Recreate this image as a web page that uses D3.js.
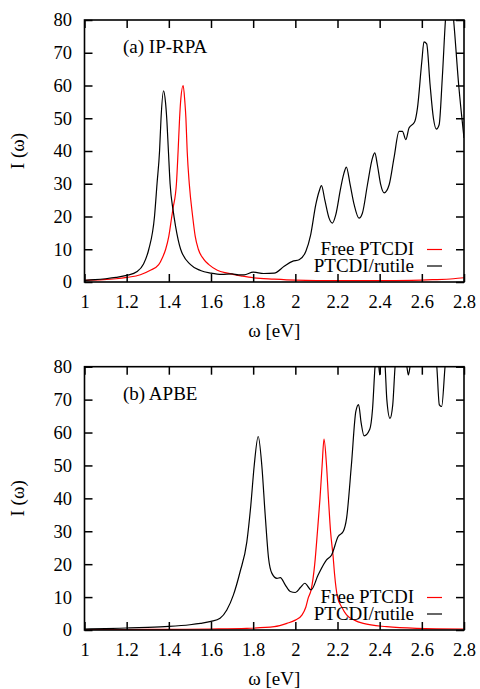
<!DOCTYPE html>
<html lang='en'>
	<head>
		<meta http-equiv='Content-Type' content='text/html;charset=utf-8'/>
		<title>I(omega) spectra</title>
		<script src='https://d3js.org/d3.v7.min.js'></script>
		<style>
			body { margin: 0; background: #ffffff; }
			text { font-family: 'Liberation Serif', 'DejaVu Serif', serif; fill: #000; }
		</style>
	</head>

	<body>
	<script>
	'use strict'

	// tick values
	const xTicks = [1, 1.2, 1.4, 1.6, 1.8, 2, 2.2, 2.4, 2.6, 2.8]
	const yTicks = [0, 10, 20, 30, 40, 50, 60, 70, 80]

	// series names
	const seriesNames = ['Free PTCDI', 'PTCDI/rutile']
	const panelLabels = ['(a) IP-RPA', '(b) APBE']

	// (a) IP-RPA, free molecule  [omega, I]
	const rpaFree = [
		[1.00, 0.5], [1.09, 0.7], [1.15, 1.0], [1.20, 1.4], [1.265, 2.2], [1.31, 3.5],
		[1.352, 5.3], [1.37, 7.5], [1.385, 10], [1.40, 14], [1.414, 20], [1.42, 22.5],
		[1.436, 30], [1.444, 40], [1.451, 50], [1.457, 56], [1.468, 60], [1.476, 55],
		[1.481, 50], [1.487, 40], [1.497, 30], [1.513, 20], [1.525, 14], [1.54, 10],
		[1.565, 7], [1.59, 5.3], [1.63, 3.6], [1.678, 2.7], [1.75, 1.8], [1.80, 1.3],
		[1.90, 0.9], [2.00, 0.6], [2.20, 0.4], [2.40, 0.4], [2.55, 0.5], [2.65, 0.7],
		[2.75, 1.0], [2.80, 1.3]
	]

	// (a) IP-RPA, PTCDI on rutile
	const rpaRutile = [
		[1.00, 0.5], [1.05, 0.7], [1.10, 1.0], [1.15, 1.4], [1.20, 2.0], [1.25, 3.2],
		[1.28, 5.5], [1.305, 10], [1.332, 20], [1.344, 30], [1.356, 40], [1.363, 50],
		[1.375, 58.4], [1.384, 55], [1.390, 50], [1.398, 40], [1.406, 30], [1.42, 22],
		[1.432, 17], [1.456, 10], [1.503, 5.3], [1.55, 3.5], [1.60, 2.7], [1.65, 2.3],
		[1.70, 2.5], [1.73, 2.2], [1.757, 2.2], [1.80, 3.0], [1.85, 2.6], [1.90, 2.7],
		[1.947, 4.8], [1.986, 6.3], [2.018, 6.8], [2.05, 9.4], [2.073, 14.5], [2.097, 23.6],
		[2.113, 27.7], [2.124, 29.4], [2.14, 25], [2.16, 19.5], [2.176, 18.0], [2.192, 20.6],
		[2.215, 28.7], [2.231, 33.3], [2.242, 35.1], [2.26, 29.7], [2.279, 23.6], [2.302, 19.5],
		[2.318, 21], [2.342, 29.7], [2.366, 37.9], [2.377, 39.4], [2.389, 35.8], [2.405, 29.7],
		[2.421, 27.2], [2.445, 29.7], [2.468, 37.9], [2.492, 46], [2.508, 46], [2.524, 43.5],
		[2.539, 47], [2.566, 48.9], [2.579, 53], [2.60, 67.4], [2.61, 73.3], [2.623, 72.7],
		[2.639, 60.3], [2.655, 50], [2.669, 46.7], [2.682, 48], [2.697, 62.3], [2.713, 81],
		[2.73, 92], [2.75, 80.5], [2.775, 60], [2.80, 44]
	]

	// (b) APBE, free molecule
	const apbeFree = [
		[1.00, 0.1], [1.20, 0.15], [1.40, 0.2], [1.60, 0.3], [1.77, 0.5], [1.90, 1.0],
		[1.96, 2.0], [2.00, 3.0], [2.032, 4.6], [2.05, 7], [2.062, 9.9], [2.075, 12.2],
		[2.092, 20], [2.105, 30], [2.117, 40], [2.127, 50], [2.136, 58], [2.148, 50],
		[2.157, 40], [2.167, 30], [2.179, 22.5], [2.186, 17], [2.20, 10], [2.22, 7],
		[2.243, 4.6], [2.28, 3.0], [2.322, 2.0], [2.433, 1.0], [2.575, 0.5], [2.80, 0.3]
	]

	// (b) APBE, PTCDI on rutile
	const apbeRutile = [
		[1.00, 0.3], [1.10, 0.4], [1.20, 0.6], [1.30, 0.8], [1.40, 1.1], [1.50, 1.6],
		[1.55, 2.0], [1.60, 2.6], [1.643, 3.6], [1.675, 6.1], [1.706, 10.6], [1.738, 17.7],
		[1.77, 26.8], [1.789, 38], [1.805, 50], [1.824, 58.8], [1.841, 50], [1.857, 35],
		[1.873, 21.8], [1.889, 17.2], [1.913, 15.7], [1.929, 15.9], [1.952, 13.7], [1.976, 11.7],
		[2.00, 11.4], [2.024, 12.9], [2.045, 14.2], [2.075, 12.2], [2.108, 16.7], [2.148, 21.3],
		[2.172, 22.8], [2.203, 28.4], [2.227, 29.9], [2.243, 33.9], [2.266, 50.2], [2.287, 66.4],
		[2.30, 68.5], [2.312, 63], [2.326, 59], [2.353, 61], [2.366, 67], [2.378, 80],
		[2.389, 86], [2.40, 77.5], [2.413, 86], [2.426, 80], [2.434, 70], [2.449, 64.3],
		[2.462, 68.4], [2.473, 80], [2.49, 88], [2.515, 84], [2.528, 80.5], [2.536, 77.5],
		[2.545, 80.5], [2.56, 88], [2.60, 95], [2.64, 92], [2.66, 86], [2.671, 80],
		[2.683, 68.4], [2.694, 67.9], [2.71, 80], [2.73, 95], [2.77, 105], [2.80, 100]
	]

	const width = 480
	const height = 689
	const left = 84.5
	const right = 464

	const svg = d3.select('body').append('svg')
		.attr('width', width)
		.attr('height', height)

	svg.append('rect')
		.attr('width', '100%')
		.attr('height', '100%')
		.attr('fill', '#ffffff')

	const x = d3.scaleLinear().domain([1, 2.8]).range([left, right])

	/**
	 * drawPanel
	 * One framed plot with two curves, legend and labels.
	 */
	function drawPanel(id, top, bottom, label, free, rutile)
	{
		const y = d3.scaleLinear().domain([0, 80]).range([bottom, top])
		const g = svg.append('g')

		g.append('clipPath').attr('id', 'clip' + id)
			.append('rect')
			.attr('x', left).attr('y', top)
			.attr('width', right - left).attr('height', bottom - top)

		const line = d3.line()
			.x(function(d) { return x(d[0]) })
			.y(function(d) { return y(d[1]) })
			.curve(d3.curveMonotoneX)

		const curves = g.append('g').attr('clip-path', 'url(#clip' + id + ')')
		curves.append('path')
			.attr('d', line(free))
			.attr('fill', 'none')
			.attr('stroke', '#ff0000')
			.attr('stroke-width', 1.2)
		curves.append('path')
			.attr('d', line(rutile))
			.attr('fill', 'none')
			.attr('stroke', '#000000')
			.attr('stroke-width', 1.2)

		// axes, ticks pointing inwards on all four sides
		const fmt = d3.format('~g')
		const axes = [
			g.append('g').attr('transform', 'translate(0,' + bottom + ')')
				.call(d3.axisBottom(x).tickValues(xTicks).tickSizeInner(-8).tickSizeOuter(0).tickPadding(12.5).tickFormat(fmt)),
			g.append('g').attr('transform', 'translate(0,' + top + ')')
				.call(d3.axisTop(x).tickValues(xTicks).tickSizeInner(-8).tickSizeOuter(0).tickFormat('')),
			g.append('g').attr('transform', 'translate(' + left + ',0)')
				.call(d3.axisLeft(y).tickValues(yTicks).tickSizeInner(-8).tickSizeOuter(0).tickPadding(12.5).tickFormat(fmt)),
			g.append('g').attr('transform', 'translate(' + right + ',0)')
				.call(d3.axisRight(y).tickValues(yTicks).tickSizeInner(-8).tickSizeOuter(0).tickFormat(''))
		]
		axes.forEach(function(a) {
			a.attr('font-family', null).attr('font-size', 18.5)
			a.select('.domain').remove()
			a.selectAll('.tick line').attr('stroke', '#000').attr('stroke-width', 1.5)
			a.selectAll('.tick text').attr('fill', '#000')
		})

		g.append('rect')
			.attr('x', left).attr('y', top)
			.attr('width', right - left).attr('height', bottom - top)
			.attr('fill', 'none')
			.attr('stroke', '#000')
			.attr('stroke-width', 1.6)

		g.append('text')
			.attr('x', 123).attr('y', top + 33)
			.attr('font-size', 19)
			.text(label)

		// legend: one text block with a line per series, plus line samples
		const colors = ['#ff0000', '#000000']
		const rows = [27, 10.5]
		const legend = g.append('text')
			.attr('text-anchor', 'end')
			.attr('font-size', 19)
		seriesNames.forEach(function(name, i) {
			legend.append('tspan')
				.attr('x', 414).attr('y', bottom - rows[i])
				.text(name)
			g.append('line')
				.attr('x1', 427).attr('x2', 442)
				.attr('y1', bottom - rows[i] - 5.5).attr('y2', bottom - rows[i] - 5.5)
				.attr('stroke', colors[i])
				.attr('stroke-width', 1.2)
		})

		g.append('text')
			.attr('x', (left + right) / 2).attr('y', bottom + 54.7)
			.attr('text-anchor', 'middle')
			.attr('font-size', 19)
			.text('ω [eV]')

		g.append('text')
			.attr('transform', 'translate(24,' + (top + bottom) / 2 + ') rotate(-90)')
			.attr('text-anchor', 'middle')
			.attr('font-size', 19)
			.text('I (ω)')
	}

	drawPanel('a', 20, 282, panelLabels[0], rpaFree, rpaRutile)
	drawPanel('b', 366.7, 630, panelLabels[1], apbeFree, apbeRutile)
	</script>
	</body>
</html>
